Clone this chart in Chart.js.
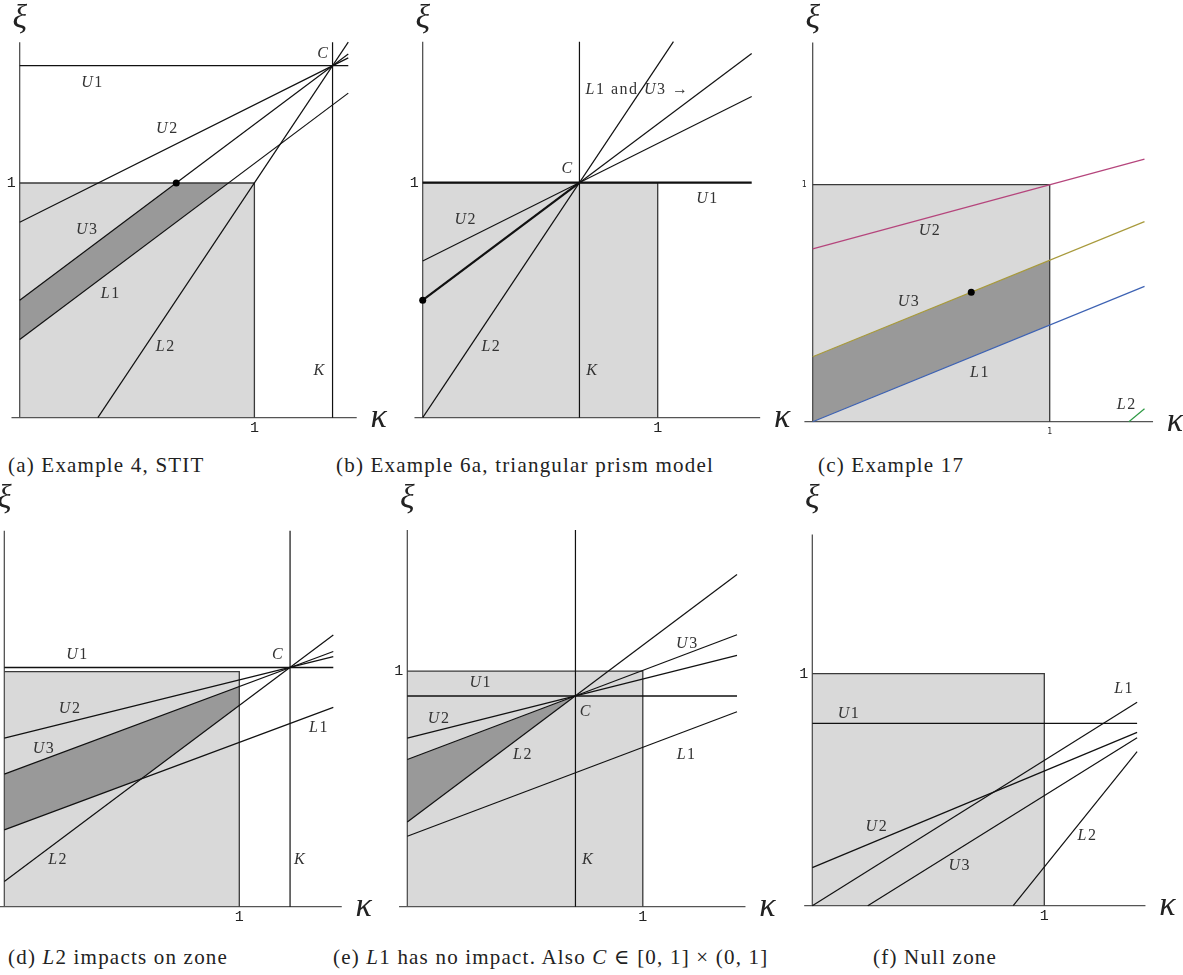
<!DOCTYPE html>
<html>
<head>
<meta charset="utf-8">
<script src="https://cdn.jsdelivr.net/npm/chart.js@4.4.1/dist/chart.umd.min.js"></script>
<style>
  body { margin: 0; background: #fff; width: 1183px; height: 975px; position: relative; overflow: hidden; }
  canvas { position: absolute; }
  .cap { position: absolute; font-family: "Liberation Serif", "DejaVu Serif", serif; font-size: 21px; letter-spacing: 1.2px; color: #222; white-space: nowrap; line-height: 24px; }
  .cap i { font-style: italic; }
</style>
</head>
<body>
<div class="cap" style="left:8px;top:453px">(a) Example 4, STIT</div>
<div class="cap" style="left:336px;top:453px">(b) Example 6a, triangular prism model</div>
<div class="cap" style="left:818px;top:453px">(c) Example 17</div>
<div class="cap" style="left:8px;top:945px">(d) <i>L</i>2 impacts on zone</div>
<div class="cap" style="left:333px;top:945px">(e) <i>L</i>1 has no impact. Also <i>C</i> ∈ [0, 1] × (0, 1]</div>
<div class="cap" style="left:873px;top:945px">(f) Null zone</div>
<script>
// line segments per panel, endpoints in (kappa, xi)
const aLines = [
  { name: "U1", pts: [[0, 1.5], [1.4, 1.5]] },
  { name: "K", pts: [[1.333, 0], [1.333, 1.6]] },
  { name: "U2", pts: [[0, 0.833], [1.4, 1.533]] },
  { name: "U3", pts: [[0, 0.5], [1.4, 1.55]] },
  { name: "L1", pts: [[0, 0.333], [1.4, 1.383]] },
  { name: "L2", pts: [[0.333, 0], [1.4, 1.6]] },
];
const bLines = [
  { name: "U1", pts: [[0, 1], [1.4, 1]] },
  { name: "K", pts: [[0.667, 0], [0.667, 1.6]] },
  { name: "U2", pts: [[0, 0.667], [1.4, 1.367]] },
  { name: "U3a", pts: [[0, 0.5], [0.667, 1]] },
  { name: "U3b", pts: [[0.667, 1], [1.4, 1.55]] },
  { name: "L2", pts: [[0, 0], [1.067, 1.6]] },
];
const cLines = [
  { name: "U2", pts: [[0, 0.729], [1.4, 1.108]] },
  { name: "U3", pts: [[0, 0.274], [1.4, 0.844]] },
  { name: "L1", pts: [[0, 0], [1.4, 0.571]] },
  { name: "L2", pts: [[1.334, 0], [1.4, 0.055]] },
];
const dLines = [
  { name: "U1", pts: [[0, 1.018], [1.4, 1.018]] },
  { name: "K", pts: [[1.216, 0], [1.216, 1.6]] },
  { name: "U2", pts: [[0, 0.717], [1.4, 1.064]] },
  { name: "U3", pts: [[0, 0.564], [1.4, 1.086]] },
  { name: "L2", pts: [[0, 0.107], [1.4, 1.156]] },
  { name: "L1", pts: [[0, 0.327], [1.4, 0.848]] },
];
const eLines = [
  { name: "U1", pts: [[0, 0.895], [1.4, 0.895]] },
  { name: "K", pts: [[0.714, 0], [0.714, 1.6]] },
  { name: "L2", pts: [[0, 0.36], [1.4, 1.411]] },
  { name: "U3", pts: [[0, 0.625], [1.4, 1.155]] },
  { name: "U2", pts: [[0, 0.716], [1.4, 1.067]] },
  { name: "L1", pts: [[0, 0.299], [1.4, 0.828]] },
];
const fLines = [
  { name: "U1", pts: [[0, 0.786], [1.4, 0.786]] },
  { name: "L1", pts: [[0, 0], [1.4, 0.877]] },
  { name: "U2", pts: [[0, 0.164], [1.4, 0.747]] },
  { name: "U3", pts: [[0.239, 0], [1.4, 0.724]] },
  { name: "L2", pts: [[0.866, 0], [1.4, 0.664]] },
];

// dark shaded zones
const aShade = [[0, 0.5], [0.667, 1], [0.889, 1], [0, 0.333]];
const bShade = [];
const cShade = [[0, 0.274], [1, 0.681], [1, 0.408], [0, 0]];
const dShade = [[0, 0.564], [1, 0.937], [1, 0.856], [0.584, 0.544], [0, 0.327]];
const eShade = [[0, 0.625], [0.714, 0.895], [0, 0.36]];
const fShade = [];

// marked points
const aDots = [[0.667, 1]];
const bDots = [[0, 0.5]];
const cDots = [[0.669, 0.546]];

// text labels [text, kappa, xi]
const aLabels = [["U1", 0.307, 1.429], ["U2", 0.626, 1.23], ["U3", 0.285, 0.8], ["L1", 0.385, 0.53], ["L2", 0.619, 0.3], ["K", 1.275, 0.199], ["C", 1.291, 1.55]];
const bLabels = [["L1 and U3 →", 0.911, 1.397], ["C", 0.613, 1.058], ["U1", 1.209, 0.931], ["U2", 0.18, 0.841], ["L2", 0.289, 0.3], ["K", 0.719, 0.199]];
const cLabels = [["U2", 0.492, 0.806], ["U3", 0.403, 0.506], ["L1", 0.703, 0.207], ["L2", 1.322, 0.073]];
const dLabels = [["U1", 0.308, 1.071], ["C", 1.162, 1.071], ["U2", 0.277, 0.844], ["U3", 0.166, 0.674], ["L1", 1.336, 0.762], ["L2", 0.226, 0.199], ["K", 1.255, 0.199]];
const eLabels = [["U3", 1.186, 1.118], ["U1", 0.309, 0.949], ["U2", 0.132, 0.797], ["C", 0.755, 0.826], ["L2", 0.488, 0.647], ["L1", 1.183, 0.647], ["K", 0.764, 0.198]];
const fLabels = [["L1", 1.341, 0.937], ["U1", 0.155, 0.829], ["U2", 0.275, 0.338], ["L2", 1.183, 0.3], ["U3", 0.632, 0.171]];

const tickLabels = ["1"];

// per line style overrides (panel:name)
const lineStyle = {
  "b:U1": { width: 2.2 },
  "b:U3a": { width: 2.2 },
  "c:U2": { color: "#b5457c" },
  "c:U3": { color: "#a89a3c" },
  "c:L1": { color: "#3d62b3" },
  "c:L2": { color: "#2e9a44" },
  "d:U1": { width: 1.6 },
  "e:U1": { width: 1.4 },
};

// where each panel sits on the page (pixels)
const layout = [
  { id: "a", left: 0, top: 0, w: 395, h: 445, ox: 19.7, oy: 417.7, unit: 234.7, lines: aLines, shade: aShade, dots: aDots, labels: aLabels, ytick: true, small: false },
  { id: "b", left: 395, top: 0, w: 400, h: 445, ox: 422.7, oy: 417.7, unit: 235, lines: bLines, shade: bShade, dots: bDots, labels: bLabels, ytick: true, small: false },
  { id: "c", left: 795, top: 0, w: 388, h: 445, ox: 812.7, oy: 421.7, unit: 237, lines: cLines, shade: cShade, dots: cDots, labels: cLabels, ytick: true, small: true },
  { id: "d", left: 0, top: 480, w: 390, h: 460, ox: 4.3, oy: 906.7, unit: 235, lines: dLines, shade: dShade, dots: [], labels: dLabels, ytick: false, small: false },
  { id: "e", left: 390, top: 480, w: 400, h: 460, ox: 407.3, oy: 906.7, unit: 235.5, lines: eLines, shade: eShade, dots: [], labels: eLabels, ytick: true, small: false },
  { id: "f", left: 790, top: 480, w: 393, h: 460, ox: 812.3, oy: 905.7, unit: 232, lines: fLines, shade: fShade, dots: [], labels: fLabels, ytick: true, small: false },
];

function toXY(pts) {
  return pts.map((p) => ({ x: p[0], y: p[1] }));
}

// math-style text: capitals italic, digits and words upright
function drawMath(ctx, text, px, py, size, spacing) {
  const runs = [];
  for (const ch of text) {
    const it = /[A-Z]/.test(ch);
    const font = (it ? "italic " : "") + size + "px 'Liberation Serif', serif";
    runs.push({ ch, font });
  }
  let total = 0;
  for (const r of runs) {
    ctx.font = r.font;
    r.w = ctx.measureText(r.ch).width + spacing;
    total += r.w;
  }
  total -= spacing;
  let cx = px - total / 2;
  ctx.textAlign = "left";
  for (const r of runs) {
    ctx.font = r.font;
    ctx.fillText(r.ch, cx, py);
    cx += r.w;
  }
}

const textPlugin = {
  id: "texts",
  afterDatasetsDraw(chart, args, opts) {
    const ctx = chart.ctx;
    const sx = chart.scales.x;
    const sy = chart.scales.y;
    ctx.save();
    ctx.textBaseline = "middle";
    for (const t of opts.items) {
      const px = sx.getPixelForValue(t.x);
      const py = sy.getPixelForValue(t.y);
      ctx.fillStyle = t.color || "#333";
      if (t.math) {
        drawMath(ctx, t.text, px, py, t.size, t.spacing);
      } else {
        ctx.font = t.font;
        ctx.textAlign = "center";
        ctx.fillText(t.text, px, py);
      }
    }
    ctx.restore();
  },
};

function makeChart(p) {
  const cv = document.createElement("canvas");
  cv.width = p.w;
  cv.height = p.h;
  cv.style.left = p.left + "px";
  cv.style.top = p.top + "px";
  document.body.appendChild(cv);

  const ox = p.ox - p.left;
  const oy = p.oy - p.top;
  const xMin = -ox / p.unit;
  const xMax = (p.w - ox) / p.unit;
  const yMax = oy / p.unit;
  const yMin = -(p.h - oy) / p.unit;

  const datasets = [];
  datasets.push({
    data: toXY([[0, 0], [0, 1], [1, 1], [1, 0]]),
    showLine: true, fill: "shape", backgroundColor: "#d9d9d9",
    borderWidth: 0, pointRadius: 0, order: 30,
  });
  if (p.shade.length) {
    datasets.push({
      data: toXY(p.shade),
      showLine: true, fill: "shape", backgroundColor: "#999999",
      borderWidth: 0, pointRadius: 0, order: 29,
    });
  }
  // square border
  datasets.push({
    data: toXY([[0, 1], [1, 1], [1, 0]]),
    showLine: true, fill: false, borderColor: "#3a3a3a", borderWidth: 1.3,
    pointRadius: 0, order: 10,
  });
  // axes
  datasets.push({
    data: toXY([[-0.035, 0], [1.436, 0]]),
    showLine: true, fill: false, borderColor: "#555", borderWidth: 1.2,
    pointRadius: 0, order: 11,
  });
  datasets.push({
    data: toXY([[0, 0], [0, 1.6]]),
    showLine: true, fill: false, borderColor: "#444", borderWidth: 1.2,
    pointRadius: 0, order: 11,
  });
  for (const ln of p.lines) {
    const st = lineStyle[p.id + ":" + ln.name] || {};
    datasets.push({
      data: toXY(ln.pts),
      showLine: true, fill: false,
      borderColor: st.color || "#111",
      borderWidth: st.width || 1.2,
      pointRadius: 0, order: 3,
    });
  }
  if (p.dots.length) {
    datasets.push({
      data: toXY(p.dots),
      showLine: false, pointRadius: 3.5, pointBackgroundColor: "#000",
      pointBorderWidth: 0, order: 1, clip: false,
    });
  }

  const items = p.labels.map((l) => ({
    text: l[0], x: l[1], y: l[2], math: true, size: 16, spacing: 1.5, color: "#333",
  }));
  const tickFont = p.small ? "8px 'DejaVu Sans Mono', monospace" : "15px 'Liberation Mono', monospace";
  const tx = 10.5 / p.unit;
  items.push({ text: tickLabels[0], x: 1, y: -tx, font: tickFont, color: "#222" });
  if (p.ytick) {
    items.push({ text: tickLabels[0], x: -8.5 / p.unit, y: 1, font: tickFont, color: "#222" });
  }
  items.push({ text: "ξ", x: 0, y: yMax - 19 / p.unit, font: "italic 34px 'Liberation Serif', serif", color: "#222" });
  items.push({ text: "κ", x: 1.436 + 22 / p.unit, y: 0, font: "italic 34px 'Liberation Serif', serif", color: "#222" });

  return new Chart(cv.getContext("2d"), {
    type: "scatter",
    data: { datasets },
    options: {
      responsive: false,
      animation: false,
      events: [],
      layout: { padding: 0, autoPadding: false },
      plugins: { legend: { display: false }, tooltip: { enabled: false }, texts: { items } },
      scales: {
        x: { type: "linear", display: false, min: xMin, max: xMax },
        y: { type: "linear", display: false, min: yMin, max: yMax },
      },
    },
    plugins: [textPlugin],
  });
}

for (const p of layout) {
  makeChart(p);
}
</script>
</body>
</html>
